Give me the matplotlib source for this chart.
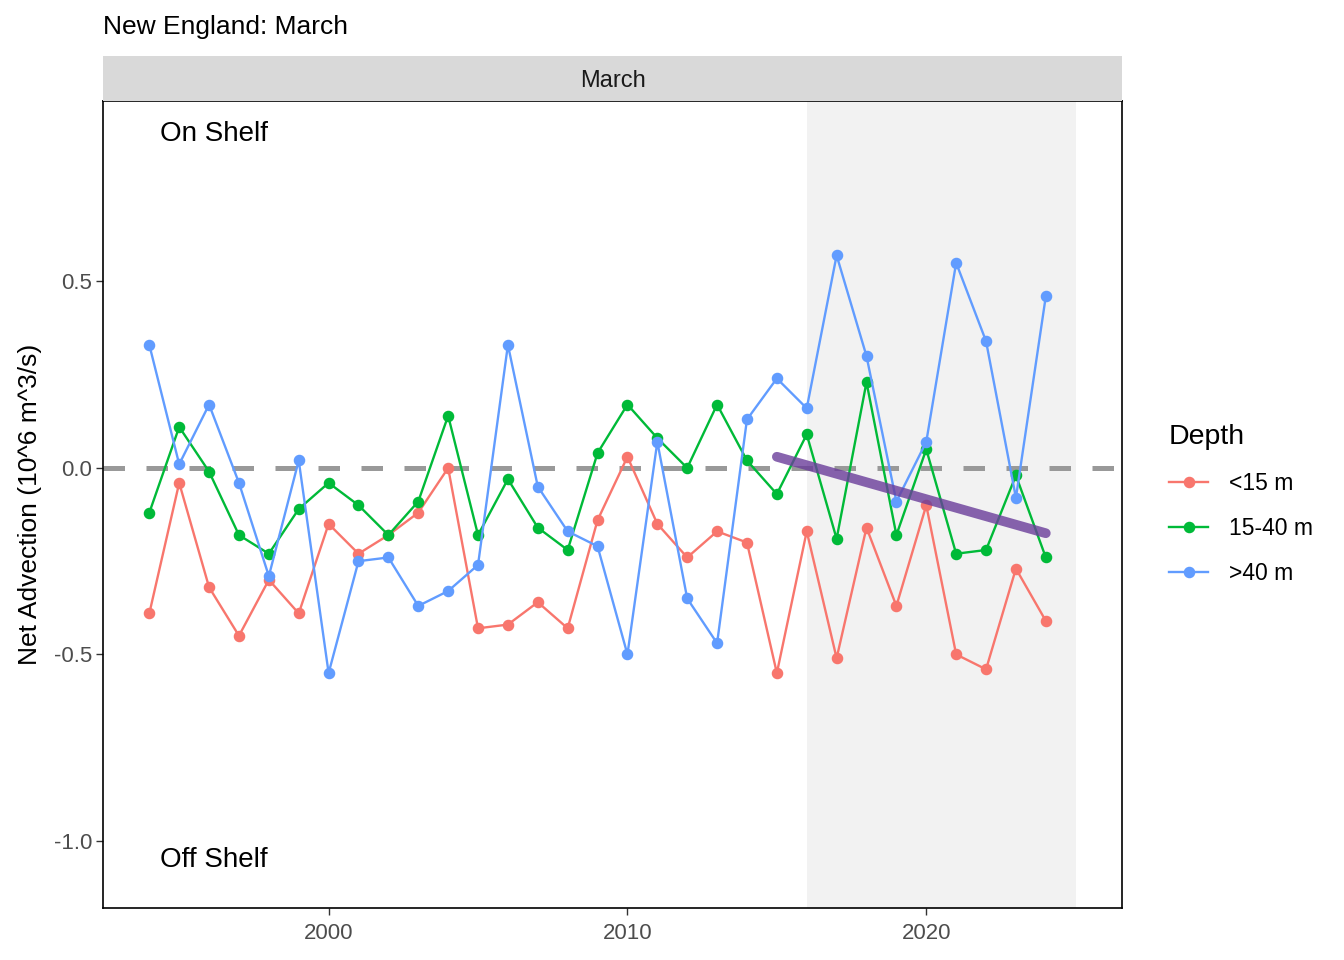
import numpy as np
import matplotlib.pyplot as plt
from matplotlib.patches import Rectangle

plt.rcParams['font.family'] = ['Liberation Sans', 'DejaVu Sans']

years = list(range(1994, 2025))

shallow = [-0.39, -0.04, -0.32, -0.45, -0.30, -0.39, -0.15, -0.23, -0.18, -0.12,
           0.00, -0.43, -0.42, -0.36, -0.43, -0.14, 0.03, -0.15, -0.24, -0.17,
           -0.20, -0.55, -0.17, -0.51, -0.16, -0.37, -0.10, -0.50, -0.54, -0.27, -0.41]
mid = [-0.12, 0.11, -0.01, -0.18, -0.23, -0.11, -0.04, -0.10, -0.18, -0.09,
       0.14, -0.18, -0.03, -0.16, -0.22, 0.04, 0.17, 0.08, 0.00, 0.17,
       0.02, -0.07, 0.09, -0.19, 0.23, -0.18, 0.05, -0.23, -0.22, -0.02, -0.24]
deep = [0.33, 0.01, 0.17, -0.04, -0.29, 0.02, -0.55, -0.25, -0.24, -0.37,
        -0.33, -0.26, 0.33, -0.05, -0.17, -0.21, -0.50, 0.07, -0.35, -0.47,
        0.13, 0.24, 0.16, 0.57, 0.30, -0.09, 0.07, 0.55, 0.34, -0.08, 0.46]

labels = ["<15 m", "15-40 m", ">40 m"]
colors = ["#F8766D", "#00BA38", "#619CFF"]

trend_years = [2015, 2024]
trend_vals = [0.03, -0.175]
shade_start, shade_end = 2016, 2025

fig = plt.figure(figsize=(13.44, 9.6), dpi=100)
ax = fig.add_axes([103/1344, 1-908/960, (1122-103)/1344, (908-101)/960])

ax.add_patch(Rectangle((shade_start, -2), shade_end - shade_start, 4,
                       facecolor="#F2F2F2", edgecolor="none", zorder=0))
ax.axhline(0, color="#999999", lw=3.6, ls=(0, (4.3, 4.3)), zorder=1)

for vals, lab, c in zip([shallow, mid, deep], labels, colors):
    ax.plot(years, vals, color=c, lw=1.7, marker="o", ms=7.3, label=lab, zorder=3)

ax.plot(trend_years, trend_vals, color="#6A3D9A", alpha=0.8, lw=7,
        solid_capstyle="round", zorder=4)

ax.text(1996.15, 0.895, "On Shelf", fontsize=20, va="center", ha="center")
ax.text(1996.15, -1.05, "Off Shelf", fontsize=20, va="center", ha="center")

ax.set_xlim(1992.45, 2026.55)
ax.set_ylim(-1.18, 0.984)
ax.set_xticks([2000, 2010, 2020])
ax.set_yticks([-1.0, -0.5, 0.0, 0.5])
ax.set_yticklabels(["-1.0", "-0.5", "0.0", "0.5"])
ax.tick_params(labelsize=16, labelcolor="#4D4D4D", color="#333333", length=5, width=1, pad=3)
ax.tick_params(axis="x", pad=6)
ax.set_ylabel("Net Advection (10^6 m^3/s)", fontsize=19, labelpad=8)
for s in ax.spines.values():
    s.set_linewidth(1.2)

# facet strip
strip = fig.add_axes([103/1344, 1-101/960, (1122-103)/1344, 45/960])
strip.set_facecolor("#D9D9D9")
strip.set_xticks([])
strip.set_yticks([])
for s in strip.spines.values():
    s.set_visible(False)
strip.text(0.5, 0.45, "March", fontsize=17, color="#1A1A1A",
           ha="center", va="center", transform=strip.transAxes)

fig.text(103/1344, 1-27/960, "New England: March", fontsize=19, va="center")

leg = ax.legend(title="Depth", loc="center left", bbox_to_anchor=(1.026, 0.5),
                frameon=False, fontsize=16.5, title_fontsize=20.5,
                handlelength=1.7, handletextpad=0.9, labelspacing=0.95,
                alignment="left")

fig.savefig("out.png", dpi=100)
